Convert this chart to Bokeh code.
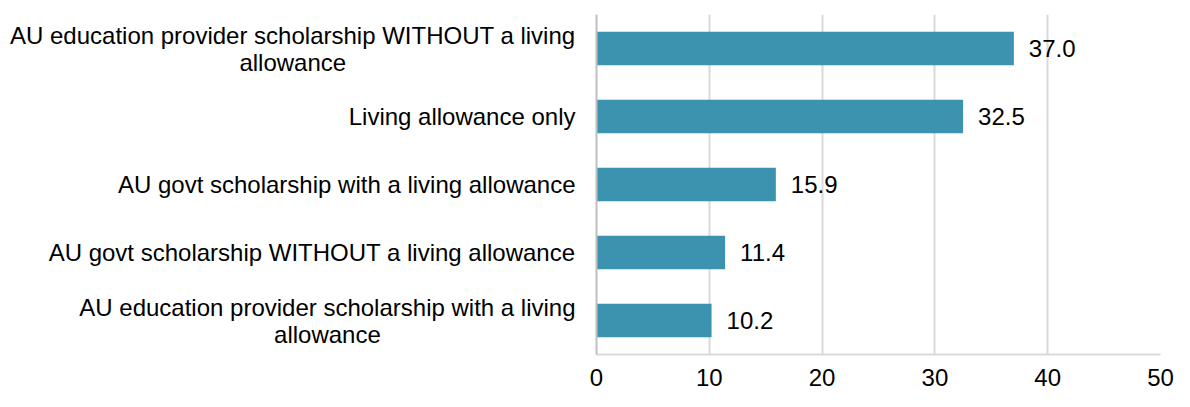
from bokeh.plotting import figure
from bokeh.layouts import row
from bokeh.models import ColumnDataSource, Range1d, FixedTicker
from bokeh.core.properties import value
from bokeh.embed import file_html
from bokeh.resources import INLINE

categories = [
    "AU education provider scholarship with a living\nallowance",
    "AU govt scholarship WITHOUT a living allowance",
    "AU govt scholarship with a living allowance",
    "Living allowance only",
    "AU education provider scholarship WITHOUT a living\nallowance",
]
values = [10.2, 11.4, 15.9, 32.5, 37.0]
x_ticks = [0, 10, 20, 30, 40, 50]

FONT = "Liberation Sans"
FS = 24
BAR = "#3c93b0"

# Arial / Liberation Sans advance widths (1/1000 em)
W = {' ': 278, 'a': 556, 'b': 556, 'c': 500, 'd': 556, 'e': 556, 'f': 278, 'g': 556,
     'h': 556, 'i': 222, 'j': 222, 'k': 500, 'l': 222, 'm': 833, 'n': 556, 'o': 556,
     'p': 556, 'q': 556, 'r': 333, 's': 500, 't': 278, 'u': 556, 'v': 500, 'w': 722,
     'x': 500, 'y': 500, 'z': 500, 'A': 667, 'U': 722, 'W': 944, 'I': 278, 'T': 611,
     'H': 722, 'O': 778}


def text_width(s):
    return sum(W.get(c, 556) for c in s) * FS / 1000.0


ypos = [i + 0.5 for i in range(len(categories))]
yr = Range1d(0, len(categories))

H_FIG = 391
TOP, BOTTOM = 14, 37
LEFT_W = 584
RIGHT_W = 1174 - LEFT_W

# ---- left panel: category labels ----
lab_x, lab_y, lab_t, lab_off, lab_al = [], [], [], [], []
right_edge = 575
line_h = 27
for cat, yv in zip(categories, ypos):
    lines = cat.split("\n")
    n = len(lines)
    wmax = max(text_width(l) for l in lines)
    for k, line in enumerate(lines):
        lab_y.append(yv)
        lab_t.append(line)
        lab_off.append((k - (n - 1) / 2.0) * line_h)
        if n == 1:
            lab_x.append(right_edge)
            lab_al.append("right")
        else:
            lab_x.append(right_edge - wmax / 2.0)
            lab_al.append("center")

lsrc = ColumnDataSource(dict(x=lab_x, y=lab_y, t=lab_t, off=lab_off, al=lab_al))

pl = figure(width=LEFT_W, height=H_FIG, output_backend="svg", toolbar_location=None,
            x_range=Range1d(0, LEFT_W), y_range=yr,
            min_border_left=0, min_border_right=0,
            min_border_top=TOP, min_border_bottom=BOTTOM)
pl.axis.visible = False
pl.grid.visible = False
pl.outline_line_color = None
pl.text(x="x", y="y", text="t", y_offset="off", text_align="al", source=lsrc,
        text_baseline="middle", text_font=value(FONT), text_font_size=f"{FS}px",
        text_color="#000000")

# ---- right panel: bars ----
src = ColumnDataSource(dict(y=ypos, val=values, lbl=[f"{v:.1f}" for v in values]))

p = figure(width=RIGHT_W, height=H_FIG, output_backend="svg", toolbar_location=None,
           y_range=yr, x_range=Range1d(0, 50),
           min_border_left=12, min_border_right=14,
           min_border_top=TOP, min_border_bottom=BOTTOM)
p.outline_line_color = None
p.background_fill_color = "white"

p.hbar(y="y", right="val", left=0, height=0.49, source=src,
       fill_color=BAR, line_color=None)
p.text(x="val", y="y", text="lbl", source=src, x_offset=15,
       text_baseline="middle", text_align="left",
       text_font=value(FONT), text_font_size=f"{FS}px", text_color="#000000")

p.xaxis.ticker = FixedTicker(ticks=x_ticks)
p.xaxis.major_tick_line_color = None
p.xaxis.minor_tick_line_color = None
p.xaxis.axis_line_color = "#d9d9d9"
p.xaxis.axis_line_width = 2
p.xaxis.major_label_standoff = 8
p.xaxis.major_label_text_font = FONT
p.xaxis.major_label_text_font_size = f"{FS}px"
p.xaxis.major_label_text_color = "#000000"

p.yaxis.ticker = FixedTicker(ticks=[])
p.yaxis.major_tick_line_color = None
p.yaxis.minor_tick_line_color = None
p.yaxis.major_label_text_font_size = "0px"
p.yaxis.major_label_standoff = 0
p.yaxis.axis_line_color = "#bfbfbf"
p.yaxis.axis_line_width = 2

p.xgrid.grid_line_color = "#d9d9d9"
p.xgrid.grid_line_width = 2
p.ygrid.grid_line_color = None

layout = row(pl, p, spacing=0)
open("out.html", "w").write(file_html(layout, INLINE))
